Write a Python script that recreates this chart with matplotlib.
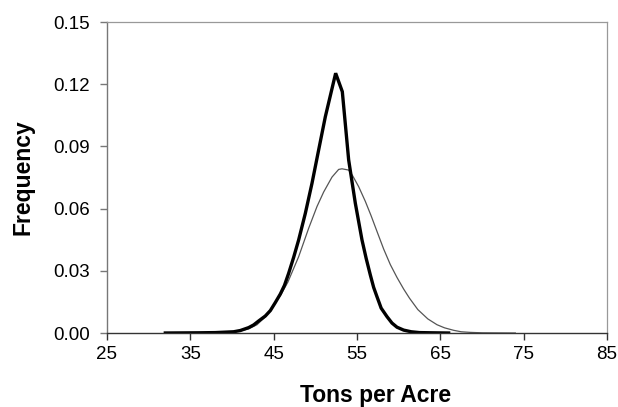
import matplotlib
matplotlib.use("Agg")
import matplotlib.pyplot as plt

plt.rcParams["font.family"] = ["Liberation Sans", "DejaVu Sans"]

# bold curve
x_bold = [32, 36, 38, 40.2, 41, 42, 42.6, 43.2, 44, 44.6, 45.2, 45.8, 46.3, 46.8,
          47.4, 48.0, 48.8, 49.6, 50.4, 51.2, 52.44, 53.24, 54.0, 54.8, 55.6, 56.1,
          56.6, 57.0, 57.4, 57.9, 58.6, 59.2, 59.8, 60.6, 61.5, 62.5, 64, 66]
y_bold = [0.0, 0.0001, 0.0002, 0.0006, 0.0012, 0.0026, 0.0039, 0.0058, 0.0082, 0.0108,
          0.0147, 0.0188, 0.0230, 0.0288, 0.0365, 0.0449, 0.0577, 0.0722, 0.0883, 0.1043,
          0.1253, 0.1164, 0.0835, 0.0626, 0.0449, 0.036, 0.028, 0.022, 0.0175, 0.012,
          0.0079, 0.0048, 0.0028, 0.0014, 0.0006, 0.0002, 0.0001, 0.0]

# thin curve
x_thin = [32, 36, 38, 40, 41, 42, 43, 44, 44.6, 45.2, 45.8, 46.7, 48.0, 49.2, 50.2,
          51.0, 52.0, 52.8, 53.2, 54.0, 54.5, 55.2, 56.0, 56.7, 57.4, 58.2, 59.0, 59.8,
          60.6, 61.3, 62.3, 63.5, 64.6, 65.5, 66.6, 67.5, 68.6, 70, 74]
y_thin = [0.0, 0.0001, 0.0002, 0.0005, 0.0010, 0.0020, 0.0040, 0.0078, 0.0108, 0.0147,
          0.0180, 0.0245, 0.0368, 0.0505, 0.0610, 0.0680, 0.0752, 0.0789, 0.0792, 0.0786,
          0.0757, 0.0706, 0.0635, 0.0565, 0.0490, 0.0405, 0.0330, 0.0268, 0.0212, 0.0168,
          0.0113, 0.0068, 0.0040, 0.0025, 0.0013, 0.0006, 0.0003, 0.0001, 0.0]

x_ticks = [25, 35, 45, 55, 65, 75, 85]
y_ticks = [0.00, 0.03, 0.06, 0.09, 0.12, 0.15]

fig = plt.figure(figsize=(6.18, 4.07), dpi=100)
ax = fig.add_axes([0.1731, 0.1818, 0.8091, 0.7641])

ax.plot(x_thin, y_thin, color="#555555", linewidth=0.9)
ax.plot(x_bold, y_bold, color="black", linewidth=2.4, solid_joinstyle="miter")

ax.set_xlim(25, 85)
ax.set_ylim(0, 0.15)
ax.set_xticks(x_ticks)
ax.set_yticks(y_ticks)
ax.set_yticklabels(["%.2f" % v for v in y_ticks])

for side in ["top", "right"]:
    ax.spines[side].set_color("#999999")
    ax.spines[side].set_linewidth(0.9)
ax.spines["left"].set_color("#777777")
ax.spines["bottom"].set_color("#333333")
ax.spines["left"].set_linewidth(1.0)
ax.spines["bottom"].set_linewidth(1.0)

ax.tick_params(axis="y", direction="out", length=5, width=1, color="#777777",
               labelsize=13.5, pad=7)
ax.tick_params(axis="x", direction="out", length=5, width=1, color="#333333",
               labelsize=13.5, pad=4)

ax.set_xlabel("Tons per Acre", fontsize=16.5, fontweight="bold")
ax.set_ylabel("Frequency", fontsize=16.5, fontweight="bold", va="center")
ax.xaxis.set_label_coords(0.538, -0.165)
ax.yaxis.set_label_coords(-0.168, 0.5)

fig.savefig("out.png", dpi=100)
